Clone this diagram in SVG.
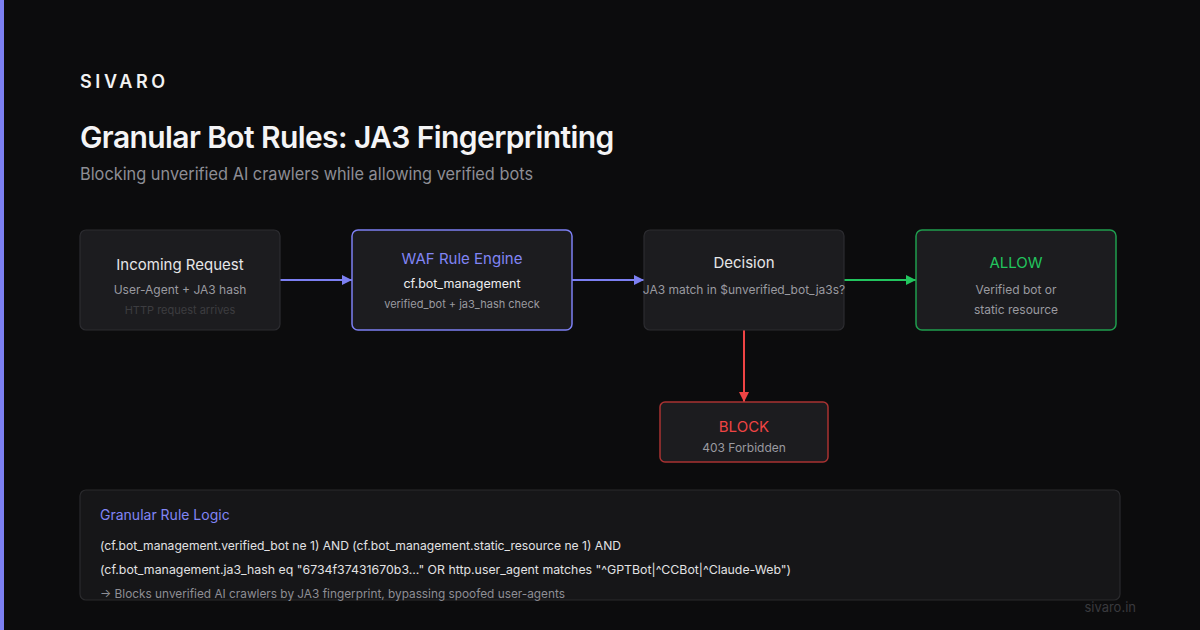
<svg xmlns="http://www.w3.org/2000/svg" width="1200" height="630" viewBox="0 0 1200 630">
<defs>
<style>
text{font-family:Inter,"Noto Sans","Liberation Sans",sans-serif}
.node{fill:#1c1c1f;stroke:#2c2c30;stroke-width:1.2}
.t{font-size:15px;fill:#e6e6e8;text-anchor:middle}
.s{font-size:12px;fill:#9a9aa0;text-anchor:middle}
.d{font-size:11px;fill:#3c3c40;text-anchor:middle}
.code{font-size:12px;fill:#e2e2e4}
</style>
<marker id="ai" viewBox="0 0 10 10" refX="10" refY="5" markerWidth="10" markerHeight="10" markerUnits="userSpaceOnUse" orient="auto"><path d="M0,0L10,5L0,10z" fill="#7c7ff2"/></marker>
<marker id="ag" viewBox="0 0 10 10" refX="10" refY="5" markerWidth="10" markerHeight="10" markerUnits="userSpaceOnUse" orient="auto"><path d="M0,0L10,5L0,10z" fill="#22c55e"/></marker>
<marker id="ar" viewBox="0 0 10 10" refX="10" refY="5" markerWidth="10" markerHeight="10" markerUnits="userSpaceOnUse" orient="auto"><path d="M0,0L10,5L0,10z" fill="#ef4444"/></marker>
</defs>
<rect width="1200" height="630" fill="#0c0c0d"/>
<rect x="0" y="0" width="4" height="630" fill="#7c7ff2"/>
<text x="80" y="88" font-size="18" font-weight="600" fill="#f2f2f2" letter-spacing="3.6">SIVARO</text>
<text x="80" y="148" font-size="30" font-weight="600" fill="#f4f4f5" letter-spacing="-0.6">Granular Bot Rules: JA3 Fingerprinting</text>
<text x="80" y="180" font-size="17" fill="#8e8e95" textLength="453" lengthAdjust="spacingAndGlyphs">Blocking unverified AI crawlers while allowing verified bots</text>

<g id="connectors" fill="none" stroke-width="2">
<line x1="280" y1="280" x2="352" y2="280" stroke="#7c7ff2" marker-end="url(#ai)"/>
<line x1="572" y1="280" x2="644" y2="280" stroke="#7c7ff2" marker-end="url(#ai)"/>
<line x1="844" y1="280" x2="916" y2="280" stroke="#22c55e" marker-end="url(#ag)"/>
<line x1="744" y1="330" x2="744" y2="402" stroke="#ef4444" marker-end="url(#ar)"/>
</g>

<g id="incoming">
<rect class="node" x="80" y="230" width="200" height="100" rx="6"/>
<text class="t" x="180" y="270">Incoming Request</text>
<text class="s" x="180" y="294">User-Agent + JA3 hash</text>
<text class="d" x="180" y="314">HTTP request arrives</text>
</g>
<g id="waf">
<rect class="node" x="352" y="230" width="220" height="100" rx="6" style="stroke:#7c7ff2;stroke-width:1.5"/>
<text class="t" x="462" y="264" style="fill:#8185f5">WAF Rule Engine</text>
<text class="s" x="462" y="288" style="fill:#ededef;font-size:12.5px">cf.bot_management</text>
<text class="s" x="462" y="308" style="font-size:11px">verified_bot + ja3_hash check</text>
</g>
<g id="decision">
<rect class="node" x="644" y="230" width="200" height="100" rx="6"/>
<text class="t" x="744" y="268">Decision</text>
<text class="s" x="744" y="294">JA3 match in $unverified_bot_ja3s?</text>
</g>
<g id="allow">
<rect class="node" x="916" y="230" width="200" height="100" rx="6" style="stroke:#1f9d4e;stroke-width:1.5"/>
<text class="t" x="1016" y="268" style="fill:#22c55e">ALLOW</text>
<text class="s" x="1016" y="294">Verified bot or</text>
<text class="s" x="1016" y="314">static resource</text>
</g>
<g id="block">
<rect class="node" x="660" y="402" width="168" height="60" rx="5" style="stroke:#a83232;stroke-width:1.5"/>
<text class="t" x="744" y="432" style="fill:#ef4444">BLOCK</text>
<text class="s" x="744" y="452">403 Forbidden</text>
</g>

<g id="logic">
<rect x="80" y="490" width="1040" height="110" rx="6" fill="#161618" stroke="#2a2a2d" stroke-width="1.2"/>
<text x="100" y="520" font-size="14" fill="#8185f5">Granular Rule Logic</text>
<text class="code" x="100" y="550" textLength="521" lengthAdjust="spacingAndGlyphs">(cf.bot_management.verified_bot ne 1) AND (cf.bot_management.static_resource ne 1) AND</text>
<text class="code" x="100" y="574" textLength="691" lengthAdjust="spacingAndGlyphs">(cf.bot_management.ja3_hash eq "6734f37431670b3..." OR http.user_agent matches "^GPTBot|^CCBot|^Claude-Web")</text>
<text x="100" y="598" font-size="12" fill="#8e8e95" textLength="465" lengthAdjust="spacingAndGlyphs">→ Blocks unverified AI crawlers by JA3 fingerprint, bypassing spoofed user-agents</text>
</g>
<text x="1136" y="612" font-size="13" fill="#3a3a3e" text-anchor="end">sivaro.in</text>
</svg>
